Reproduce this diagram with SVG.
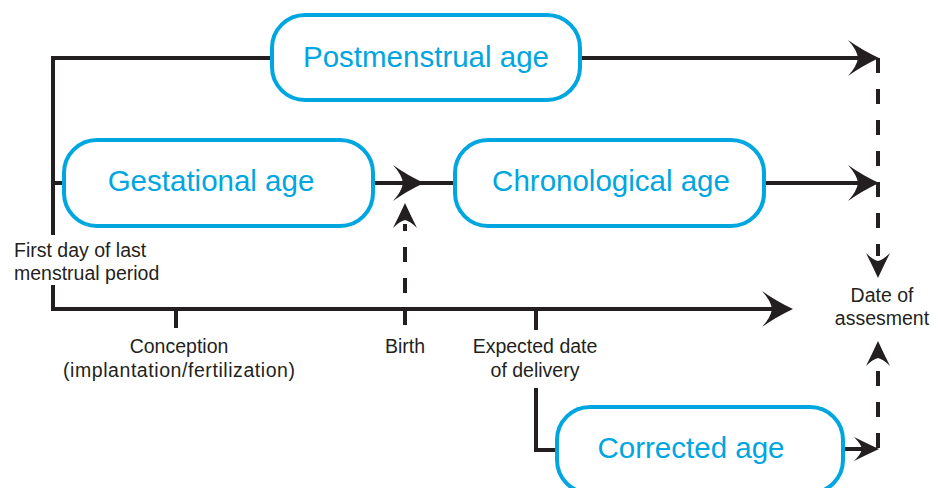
<svg xmlns="http://www.w3.org/2000/svg" xmlns:xlink="http://www.w3.org/1999/xlink" width="931" height="488" viewBox="0 0 931 488">
<style>
.box{fill:#fff;stroke:#00a6e0;stroke-width:4}
.bt{font-family:"Liberation Sans",Arial,sans-serif;font-size:29.5px;fill:#00a6e0;text-anchor:middle}
.st{font-family:"Liberation Sans",Arial,sans-serif;font-size:19.5px;fill:#231f20}
.mid{text-anchor:middle}
.ln{fill:none;stroke:#231f20;stroke-width:4}
.dash{fill:none;stroke:#231f20;stroke-width:4;stroke-dasharray:15 16}
.ah{fill:#231f20}
</style>
<defs>
<path id="big" d="M0,0 Q-17,-8 -31,-18 Q-22,-8 -21,0 Q-22,8 -31,18 Q-17,8 0,0Z"/>
<path id="small" d="M0,0 Q-13,-6 -25,-12 Q-18,-5 -17,0 Q-18,5 -25,12 Q-13,6 0,0Z"/>
</defs>
<g id="connectors">
<path class="ln" d="M53,235 V58 H272"/>
<path class="ln" d="M580,58 H862"/>
<path class="ln" d="M53,183 H64"/>
<path class="ln" d="M373,183 H455"/>
<path class="ln" d="M764,183 H862"/>
<path class="ln" d="M53,285 V309 H776"/>
<path class="ln" d="M176,309 V328"/>
<path class="ln" d="M405,309 V325"/>
<path class="ln" d="M536,309 V330"/>
<path class="ln" d="M536,388 V450 H557"/>
<path class="ln" d="M843,449 H862"/>
<path class="dash" d="M878,58 V256"/>
<path class="dash" d="M878,448 V362"/>
<path class="dash" d="M405,293 V224"/>
<use href="#big" class="ah" transform="translate(879,58)"/>
<use href="#big" class="ah" transform="translate(424,183)"/>
<use href="#big" class="ah" transform="translate(879,183)"/>
<use href="#big" class="ah" transform="translate(793,309)"/>
<use href="#small" class="ah" transform="translate(879,449)"/>
<use href="#small" class="ah" transform="translate(878,278) rotate(90)"/>
<use href="#small" class="ah" transform="translate(878,341) rotate(-90)"/>
<use href="#small" class="ah" transform="translate(405,203) rotate(-90)"/>
</g>
<g id="postmenstrual">
<rect class="box" x="272" y="15" width="308" height="85" rx="33"/>
<text class="bt" x="426" y="67">Postmenstrual age</text>
</g>
<g id="gestational">
<rect class="box" x="64" y="140" width="309" height="86" rx="33"/>
<text class="bt" x="211" y="191">Gestational age</text>
</g>
<g id="chronological">
<rect class="box" x="455" y="140" width="309" height="86" rx="33"/>
<text class="bt" x="611" y="191">Chronological age</text>
</g>
<g id="corrected">
<rect class="box" x="557" y="407" width="286" height="86" rx="33"/>
<text class="bt" x="691" y="458">Corrected age</text>
</g>
<g id="lmp">
<text class="st" x="14" y="257">First day of last</text>
<text class="st" x="14" y="280">menstrual period</text>
</g>
<g id="conception">
<text class="st mid" x="179" y="353">Conception</text>
<text class="st mid" x="179" y="377" textLength="232">(implantation/fertilization)</text>
</g>
<g id="birth">
<text class="st mid" x="405" y="353">Birth</text>
</g>
<g id="edd">
<text class="st mid" x="535" y="353">Expected date</text>
<text class="st mid" x="535" y="377">of delivery</text>
</g>
<g id="assessment">
<text class="st mid" x="882" y="302">Date of</text>
<text class="st mid" x="882" y="325">assesment</text>
</g>
</svg>
